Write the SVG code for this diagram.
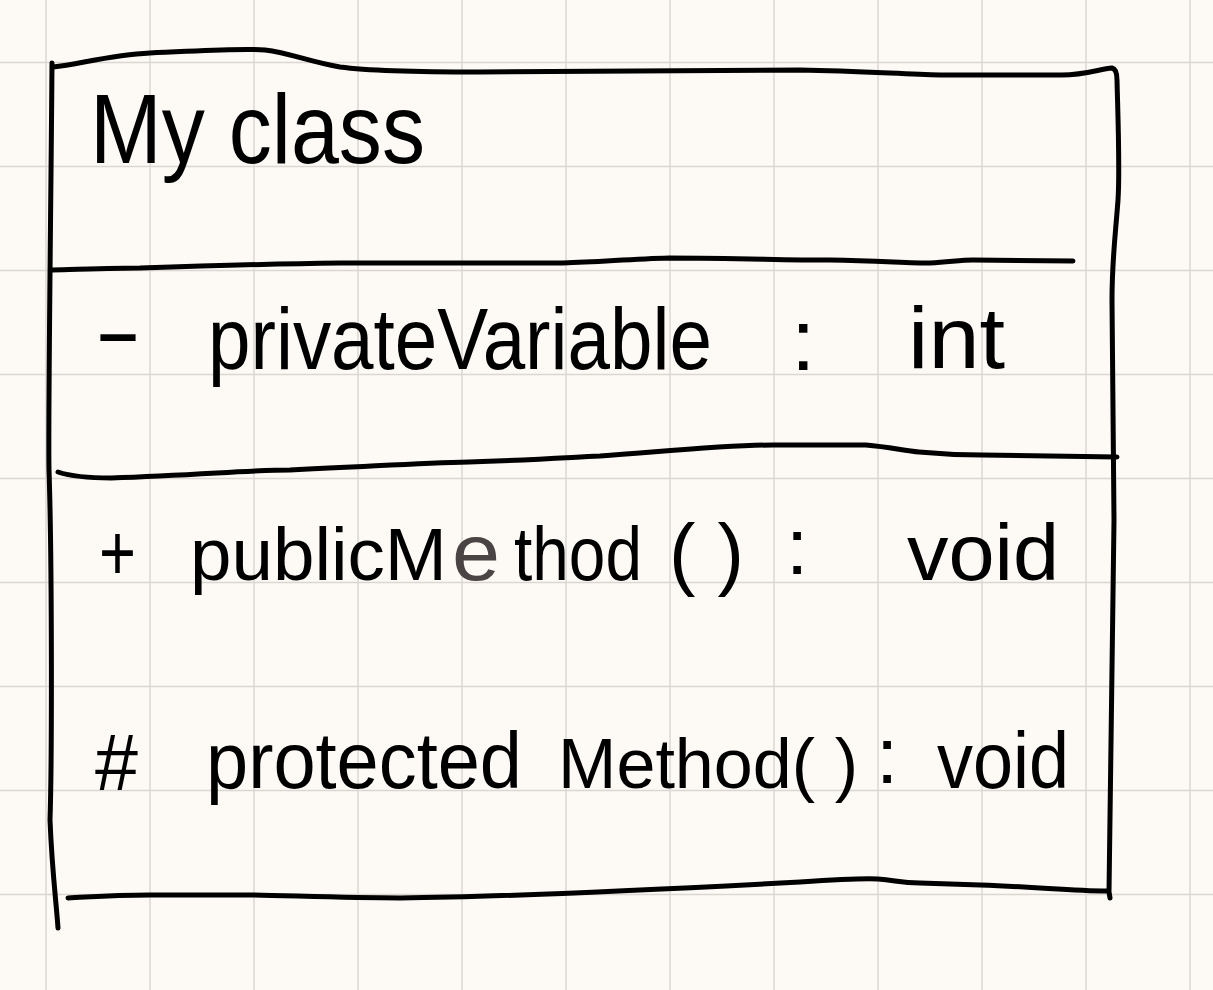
<svg xmlns="http://www.w3.org/2000/svg" width="1213" height="990" viewBox="0 0 1213 990">
  <defs>
    <style>
      .grid line { stroke: #dad6d2; stroke-width: 1.5; }
      .ink { fill: none; stroke: #000; stroke-width: 5; stroke-linecap: round; stroke-linejoin: round; }
      .t { font-family: "Liberation Sans", Arial, sans-serif; fill: #000; }
      .title { font-size: 98px; }
      .attr { font-size: 88px; }
      .op { font-size: 80px; }
      .grey { fill: #4a4444; }
    </style>
  </defs>
  <rect x="0" y="0" width="1213" height="990" fill="#fdf9f5"/>
  <g class="grid" id="grid">
    <line x1="46" y1="0" x2="46" y2="990"/>
    <line x1="150" y1="0" x2="150" y2="990"/>
    <line x1="254" y1="0" x2="254" y2="990"/>
    <line x1="358" y1="0" x2="358" y2="990"/>
    <line x1="462" y1="0" x2="462" y2="990"/>
    <line x1="566" y1="0" x2="566" y2="990"/>
    <line x1="670" y1="0" x2="670" y2="990"/>
    <line x1="774" y1="0" x2="774" y2="990"/>
    <line x1="878" y1="0" x2="878" y2="990"/>
    <line x1="982" y1="0" x2="982" y2="990"/>
    <line x1="1086" y1="0" x2="1086" y2="990"/>
    <line x1="1190" y1="0" x2="1190" y2="990"/>
    <line x1="0" y1="62.5" x2="1213" y2="62.5"/>
    <line x1="0" y1="166.5" x2="1213" y2="166.5"/>
    <line x1="0" y1="270.5" x2="1213" y2="270.5"/>
    <line x1="0" y1="374.5" x2="1213" y2="374.5"/>
    <line x1="0" y1="478.5" x2="1213" y2="478.5"/>
    <line x1="0" y1="582.5" x2="1213" y2="582.5"/>
    <line x1="0" y1="686.5" x2="1213" y2="686.5"/>
    <line x1="0" y1="790.5" x2="1213" y2="790.5"/>
    <line x1="0" y1="894.5" x2="1213" y2="894.5"/>
  </g>
  <g id="connectors"/>
  <g id="my-class">
    <path class="ink" d="M52,63 C51,200 48,420 49,470 C52,560 52,760 50,820 C52,870 56,900 58,928"/>
    <path class="ink" d="M53,67 C80,64 110,55 150,53 C200,51 240,48 265,50 C290,53 310,62 340,67 C370,71 420,72 480,72 L800,70 C860,71 900,74 940,75 L1062,75 C1085,75 1100,69 1112,68 C1116,69 1117,73 1117,80 C1118,120 1120,170 1118,200 C1115,240 1112,260 1112,300 L1114,520 C1113,650 1110,780 1109,892 L1110,898"/>
    <path class="ink" d="M68,898 C90,897 110,895 150,895 L254,895 C300,896 350,898 400,898 C500,897 650,890 800,882 C830,880 860,878 878,879 C895,880 900,883 920,883 L980,885 C1040,887 1070,891 1107,891"/>
    <path class="ink" d="M52,270 C90,269 120,268 140,268 C200,266 260,264 340,263 L563,263 C600,262 630,259 669,258 C740,258 780,260 830,260 C880,261 910,263 930,263 C950,262 960,260 973,260 L1073,261"/>
    <path class="ink" d="M58,472 C70,476 90,478 111,478 C200,475 250,470 290,470 C380,466 420,463 469,462 C530,460 560,458 600,456 C680,450 730,445 773,445 L866,445 C890,447 905,451 919,452 C940,454 960,455 982,455 L1117,457"/>
    <text class="t title" x="90" y="163" textLength="335" lengthAdjust="spacingAndGlyphs">My class</text>
    <text class="t attr" x="94" y="361" textLength="48" lengthAdjust="spacingAndGlyphs">-</text>
    <text class="t attr" x="208" y="369" textLength="504" lengthAdjust="spacingAndGlyphs">privateVariable</text>
    <text class="t attr" x="791" y="370">:</text>
    <text class="t attr" x="908" y="368" textLength="97" lengthAdjust="spacingAndGlyphs">int</text>
    <text class="t op" x="99" y="580" textLength="37" lengthAdjust="spacingAndGlyphs">+</text>
    <text class="t op" x="190" y="580" style="font-size:74px" textLength="257" lengthAdjust="spacingAndGlyphs">publicM</text>
    <text class="t op grey" x="452" y="580" textLength="48" lengthAdjust="spacingAndGlyphs">e</text>
    <text class="t op" x="514" y="580" style="font-size:76px" textLength="128" lengthAdjust="spacingAndGlyphs">thod</text>
    <text class="t op" x="669" y="580" textLength="75" lengthAdjust="spacingAndGlyphs">( )</text>
    <text class="t op" x="786" y="574">:</text>
    <text class="t op" x="907" y="580" textLength="152" lengthAdjust="spacingAndGlyphs">void</text>
    <text class="t op" x="95" y="790" textLength="43" lengthAdjust="spacingAndGlyphs">#</text>
    <text class="t op" x="206" y="788" textLength="316" lengthAdjust="spacingAndGlyphs">protected</text>
    <text class="t op" x="558" y="788" style="font-size:70px" textLength="300" lengthAdjust="spacingAndGlyphs">Method( )</text>
    <text class="t op" x="876" y="783">:</text>
    <text class="t op" x="937" y="788" textLength="132" lengthAdjust="spacingAndGlyphs">void</text>
  </g>
</svg>
